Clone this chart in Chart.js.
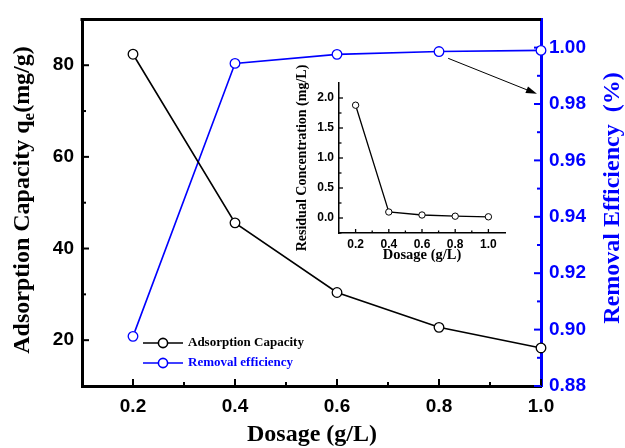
<!DOCTYPE html>
<html>
<head>
<meta charset="utf-8">
<script src="https://cdn.jsdelivr.net/npm/chart.js@4.4.1/dist/chart.umd.min.js"></script>
<style>
  html, body { margin: 0; padding: 0; background: #fff; }
  #wrap { position: relative; width: 625px; height: 448px; overflow: hidden; }
  #main { position: absolute; left: 0; top: 0; }
  #inset { position: absolute; left: 285px; top: 50px; }
</style>
</head>
<body>
<div id="wrap">
  <canvas id="main" width="625" height="448"></canvas>
  <canvas id="inset" width="230" height="220"></canvas>
</div>
<script>
// data
const dosage = [0.2, 0.4, 0.6, 0.8, 1.0];
const capacity = [82.4, 45.6, 30.4, 22.8, 18.3];
const efficiency = [0.8976, 0.9944, 0.9976, 0.9986, 0.999];
const residual = [1.88, 0.10, 0.05, 0.03, 0.02];

const xTicks = [0.2, 0.4, 0.6, 0.8, 1.0];
const xMinor = [0.3, 0.5, 0.7, 0.9];
const capTicks = [20, 40, 60, 80];
const capMinor = [30, 50, 70];
const effTicks = [0.88, 0.90, 0.92, 0.94, 0.96, 0.98, 1.00];
const effMinor = [0.89, 0.91, 0.93, 0.95, 0.97, 0.99];
const residTicks = [0, 0.5, 1.0, 1.5, 2.0];
const residMinor = [-0.25, 0.25, 0.75, 1.25, 1.75];

// arrow from the efficiency curve to its axis, in data units
const arrowFrom = [0.818, 0.9962];
const arrowTo = [0.992, 0.9836];

const BLUE = '#0000ff';
const SANS = "'Liberation Sans', Arial, sans-serif";
const SERIF = "'Liberation Serif', 'Times New Roman', serif";

const pts = (ys) => dosage.map((x, i) => ({ x: x, y: ys[i] }));
const fixTicks = (arr) => (s) => { s.ticks = arr.map(v => ({ value: v })); };

function tickMarks(ctx, scale, vals, len, dir) {
  vals.forEach(v => {
    const p = scale.getPixelForValue(v);
    ctx.beginPath();
    if (scale.isHorizontal()) {
      ctx.moveTo(p, scale.top);
      ctx.lineTo(p, scale.top - len);
    } else {
      const x0 = dir > 0 ? scale.right : scale.left;
      ctx.moveTo(x0, p);
      ctx.lineTo(x0 + dir * len, p);
    }
    ctx.stroke();
  });
}

function vText(ctx, x, y, parts) {
  // parts: [text, fontSize, shift]
  ctx.save();
  ctx.translate(x, y);
  ctx.rotate(-Math.PI / 2);
  let total = 0;
  parts.forEach(p => { ctx.font = 'bold ' + p[1] + 'px ' + SERIF; total += ctx.measureText(p[0]).width; });
  let cx = -total / 2;
  ctx.textBaseline = 'alphabetic';
  ctx.textAlign = 'left';
  parts.forEach(p => {
    ctx.font = 'bold ' + p[1] + 'px ' + SERIF;
    ctx.fillText(p[0], cx, p[2]);
    cx += ctx.measureText(p[0]).width;
  });
  ctx.restore();
}

const mainDecor = {
  id: 'mainDecor',
  beforeDatasetsDraw(chart) {
    const { ctx, chartArea: a, scales } = chart;
    ctx.save();
    ctx.lineCap = 'butt';
    // top frame
    ctx.strokeStyle = '#000';
    ctx.lineWidth = 3;
    ctx.beginPath();
    ctx.moveTo(a.left - 1.5, a.top);
    ctx.lineTo(a.right, a.top);
    ctx.stroke();
    // inward ticks
    ctx.lineWidth = 2;
    tickMarks(ctx, scales.x, xTicks, 7, 0);
    tickMarks(ctx, scales.x, xMinor, 4, 0);
    tickMarks(ctx, scales.y, capTicks, 7, 1);
    tickMarks(ctx, scales.y, capMinor, 4, 1);
    ctx.strokeStyle = BLUE;
    tickMarks(ctx, scales.y1, effTicks, 7, -1);
    tickMarks(ctx, scales.y1, effMinor, 4, -1);
    ctx.restore();
  },
  afterDraw(chart) {
    const { ctx, scales } = chart;
    ctx.save();
    // axis titles
    ctx.fillStyle = '#000';
    vText(ctx, 29, 200, [['Adsorption Capacity q', 24, 0], ['e', 17, 5], ['(mg/g)', 24, 0]]);
    ctx.fillStyle = BLUE;
    vText(ctx, 619, 198, [['Removal Efficiency  (%)', 24, 0]]);
    ctx.fillStyle = '#000';
    ctx.font = 'bold 24px ' + SERIF;
    ctx.textAlign = 'center';
    ctx.textBaseline = 'middle';
    ctx.fillText('Dosage (g/L)', 312, 435);

    // legend
    chart.data.datasets.forEach((ds, i) => {
      const y = 343 + i * 20;
      ctx.strokeStyle = ds.borderColor;
      ctx.lineWidth = 1.6;
      ctx.beginPath();
      ctx.moveTo(143, y);
      ctx.lineTo(183, y);
      ctx.stroke();
      ctx.beginPath();
      ctx.arc(163, y, 4.6, 0, Math.PI * 2);
      ctx.fillStyle = '#fff';
      ctx.fill();
      ctx.stroke();
      ctx.fillStyle = ds.borderColor;
      ctx.font = 'bold 13px ' + SERIF;
      ctx.textAlign = 'left';
      ctx.textBaseline = 'middle';
      ctx.fillText(ds.label, 188, y);
    });

    // arrow
    const x0 = scales.x.getPixelForValue(arrowFrom[0]);
    const y0 = scales.y1.getPixelForValue(arrowFrom[1]);
    const x1 = scales.x.getPixelForValue(arrowTo[0]);
    const y1 = scales.y1.getPixelForValue(arrowTo[1]);
    const ang = Math.atan2(y1 - y0, x1 - x0);
    ctx.strokeStyle = '#000';
    ctx.fillStyle = '#000';
    ctx.lineWidth = 1;
    ctx.beginPath();
    ctx.moveTo(x0, y0);
    ctx.lineTo(x1 - 8 * Math.cos(ang), y1 - 8 * Math.sin(ang));
    ctx.stroke();
    ctx.beginPath();
    ctx.moveTo(x1, y1);
    ctx.lineTo(x1 - 11 * Math.cos(ang) + 3.5 * Math.sin(ang), y1 - 11 * Math.sin(ang) - 3.5 * Math.cos(ang));
    ctx.lineTo(x1 - 11 * Math.cos(ang) - 3.5 * Math.sin(ang), y1 - 11 * Math.sin(ang) + 3.5 * Math.cos(ang));
    ctx.closePath();
    ctx.fill();
    ctx.restore();
  }
};

new Chart(document.getElementById('main'), {
  type: 'line',
  data: {
    datasets: [
      {
        label: 'Adsorption Capacity',
        data: pts(capacity),
        yAxisID: 'y',
        borderColor: '#000',
        borderWidth: 1.6,
        pointRadius: 4.8,
        pointBorderWidth: 1.3,
        pointBackgroundColor: '#fff',
        pointBorderColor: '#000',
        clip: false
      },
      {
        label: 'Removal efficiency',
        data: pts(efficiency),
        yAxisID: 'y1',
        borderColor: BLUE,
        borderWidth: 1.6,
        pointRadius: 4.8,
        pointBorderWidth: 1.3,
        pointBackgroundColor: '#fff',
        pointBorderColor: BLUE,
        clip: false
      }
    ]
  },
  options: {
    responsive: false,
    animation: false,
    devicePixelRatio: 1,
    layout: { padding: { top: 15, left: 0, right: 0, bottom: 0 } },
    plugins: { legend: { display: false }, tooltip: { enabled: false } },
    scales: {
      x: {
        type: 'linear',
        min: 0.1,
        max: 1.0,
        afterBuildTicks: fixTicks(xTicks),
        afterFit: (s) => { s.height = 62; },
        grid: { display: false, drawTicks: false },
        border: { color: '#000', width: 3 },
        ticks: {
          color: '#000',
          padding: 9,
          font: { family: SANS, weight: 'bold', size: 19 },
          callback: (v) => v.toFixed(1)
        }
      },
      y: {
        position: 'left',
        min: 10,
        max: 90,
        afterBuildTicks: fixTicks(capTicks),
        afterFit: (s) => { s.width = 82; },
        grid: { display: false, drawTicks: false },
        border: { color: '#000', width: 3 },
        ticks: {
          color: '#000',
          padding: 8,
          font: { family: SANS, weight: 'bold', size: 19 },
          callback: (v) => String(v)
        }
      },
      y1: {
        position: 'right',
        min: 0.88,
        max: 1.01,
        afterBuildTicks: fixTicks(effTicks),
        afterFit: (s) => { s.width = 84; },
        grid: { display: false, drawTicks: false },
        border: { color: BLUE, width: 3 },
        ticks: {
          color: BLUE,
          padding: 8,
          font: { family: SANS, weight: 'bold', size: 19 },
          callback: (v) => v.toFixed(2)
        }
      }
    }
  },
  plugins: [mainDecor]
});

const insetDecor = {
  id: 'insetDecor',
  beforeDatasetsDraw(chart) {
    const { ctx, scales } = chart;
    ctx.save();
    ctx.strokeStyle = '#000';
    ctx.lineWidth = 1.3;
    tickMarks(ctx, scales.x, xTicks, 4, 0);
    tickMarks(ctx, scales.x, xMinor, 2.5, 0);
    tickMarks(ctx, scales.y, residTicks, 4, 1);
    tickMarks(ctx, scales.y, residMinor, 2.5, 1);
    ctx.restore();
  },
  afterDraw(chart) {
    const { ctx } = chart;
    ctx.save();
    ctx.fillStyle = '#000';
    vText(ctx, 21, 108, [['Residual Concentration (mg/L)', 14, 0]]);
    ctx.font = 'bold 14.5px ' + SERIF;
    ctx.textAlign = 'center';
    ctx.textBaseline = 'middle';
    ctx.fillText('Dosage (g/L)', 137, 205);
    ctx.restore();
  }
};

new Chart(document.getElementById('inset'), {
  type: 'line',
  data: {
    datasets: [{
      label: 'Residual Concentration',
      data: pts(residual),
      borderColor: '#000',
      borderWidth: 1.3,
      pointRadius: 3.2,
      pointBorderWidth: 1,
      pointBackgroundColor: '#fff',
      pointBorderColor: '#000',
      clip: false
    }]
  },
  options: {
    responsive: false,
    animation: false,
    devicePixelRatio: 1,
    layout: { padding: { top: 33, right: 10, left: 0, bottom: 0 } },
    plugins: { legend: { display: false }, tooltip: { enabled: false } },
    scales: {
      x: {
        type: 'linear',
        min: 0.1,
        max: 1.1,
        afterBuildTicks: fixTicks(xTicks),
        afterFit: (s) => { s.height = 37; },
        grid: { display: false, drawTicks: false },
        border: { color: '#000', width: 1.5 },
        ticks: {
          color: '#000',
          padding: 4,
          font: { family: SANS, weight: 'bold', size: 12 },
          callback: (v) => v.toFixed(1)
        }
      },
      y: {
        min: -0.25,
        max: 2.25,
        afterBuildTicks: fixTicks(residTicks),
        afterFit: (s) => { s.width = 54; },
        grid: { display: false, drawTicks: false },
        border: { color: '#000', width: 1.5 },
        ticks: {
          color: '#000',
          padding: 5,
          font: { family: SANS, weight: 'bold', size: 12 },
          callback: (v) => v.toFixed(1)
        }
      }
    }
  },
  plugins: [insetDecor]
});
</script>
</body>
</html>
